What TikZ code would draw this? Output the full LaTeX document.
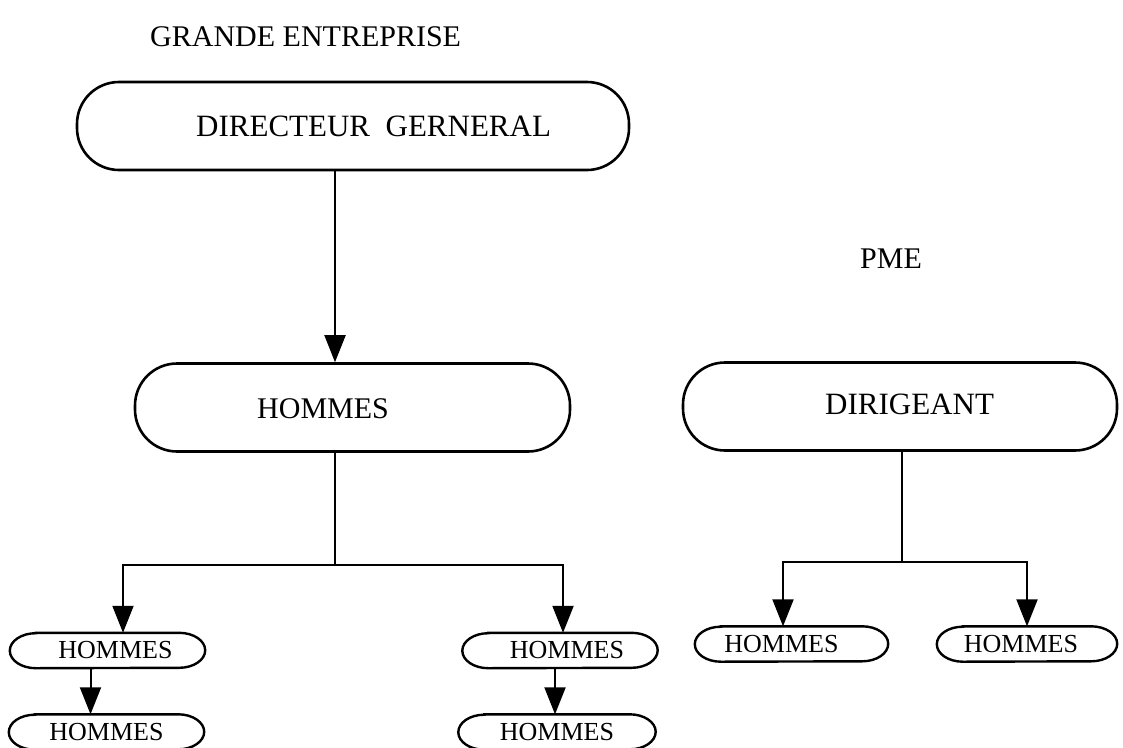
\documentclass[tikz,border=0pt]{standalone}
\usepackage{fontspec}
\setmainfont{Liberation Serif}
\usetikzlibrary{arrows.meta}
\begin{document}
\begin{tikzpicture}[x=1pt,y=-1pt,
    box/.style={draw,line width=2.6pt,rounded corners=42pt,minimum height=88pt,inner sep=0pt},
    small/.style={minimum width=195pt,minimum height=35pt,inner sep=0pt,font=\fontsize{26}{26}\selectfont},
    lbl/.style={inner sep=0pt,anchor=base west,font=\fontsize{30}{30}\selectfont},
    arr/.style={line width=2pt,-{Triangle[length=27pt,width=21pt]}}]
\useasboundingbox (0,0) rectangle (1123,747);
% titres
\node[lbl] (tG) at (150,46) {GRANDE ENTREPRISE};
\node[lbl] (tP) at (860,268) {PME};
% grande entreprise
\node[box,minimum width=552pt] (dg) at (353,126) {};
\node[lbl,font=\fontsize{31}{31}\selectfont] at (196,136) {DIRECTEUR\ \ GERNERAL};
\node[box,minimum width=435pt] (hom) at (352.5,407.5) {};
\node[lbl] at (257,418) {HOMMES};
\node[small] (hA1) at (107.5,650.5) {\hspace*{16pt}HOMMES};
\node[small] (hA2) at (106.5,732) {HOMMES};
\node[small] (hB1) at (560,650.5) {\hspace*{14pt}HOMMES};
\node[small,minimum width=197pt] (hB2) at (557,732) {HOMMES};
\coordinate (xa) at (335,0);
\coordinate (jA) at (335,565);
\draw[arr] (dg.south -| xa) -- (hom.north -| xa);
\draw[line width=2pt] (hom.south -| xa) -- (jA);
\draw[arr] (jA) -| ([xshift=15.5pt]hA1.north);
\draw[arr] (jA) -| ([xshift=3pt]hB1.north);
\draw[arr] ([xshift=-17pt]hA1.south) -- ([xshift=-17pt]hA1.south |- hA2.north);
\draw[arr] ([xshift=-5pt]hB1.south) -- ([xshift=-5pt]hB1.south |- hB2.north);
% PME
\node[box,minimum width=434pt] (dir) at (900,406.5) {};
\node[lbl,font=\fontsize{31}{31}\selectfont] at (825,414) {DIRIGEANT};
\node[small,minimum width=193pt] (hC1) at (791.5,644) {HOMMES\hspace*{20pt}};
\node[small,minimum width=180pt] (hC2) at (1027,644) {HOMMES\hspace*{12pt}};
\coordinate (jB) at (902,562);
\draw[line width=2pt] (dir.south -| jB) -- (jB);
\draw[arr] (jB) -| ([xshift=-8.5pt]hC1.north);
\draw[arr] (jB) -| (hC2.north);
% contours des petites bulles
\foreach \n in {hA1,hA2,hB1,hB2,hC1,hC2}
  \draw[line width=2.4pt] ([xshift=26pt]\n.north west) -- ([xshift=-26pt]\n.north east)
    arc[start angle=90,end angle=-90,x radius=26pt,y radius=17.5pt]
    -- ([xshift=26pt]\n.south west)
    arc[start angle=270,end angle=90,x radius=26pt,y radius=17.5pt] -- cycle;
\end{tikzpicture}
\end{document}
